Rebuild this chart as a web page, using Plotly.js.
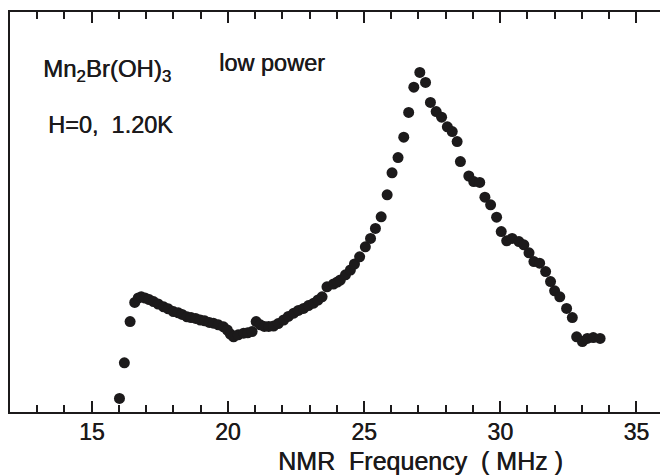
<!DOCTYPE html>
<html>
<head>
<meta charset="utf-8">
<script src="https://cdn.plot.ly/plotly-3.0.1.min.js"></script>
<style>html,body{margin:0;padding:0;background:#fff;}#chart{width:660px;height:475px;}</style>
</head>
<body>
<div id="chart"></div>
<script>
// NMR frequency (MHz) and signal intensity (arbitrary units)
const frequencyMHz = [
  16.02, 16.20, 16.41, 16.58, 16.71, 16.82, 16.96, 17.11, 17.27, 17.44,
  17.64, 17.81, 18.00, 18.18, 18.32, 18.50, 18.65, 18.82, 18.99, 19.15,
  19.32, 19.47, 19.65, 19.84, 19.98, 20.09, 20.21, 20.38, 20.58, 20.73,
  20.89, 21.04, 21.19, 21.34, 21.50, 21.68, 21.85, 22.05, 22.22, 22.42,
  22.59, 22.78, 22.96, 23.15, 23.31, 23.46, 23.64, 23.88, 24.02, 24.13,
  24.32, 24.50, 24.65, 24.84, 25.05, 25.24, 25.42, 25.63, 25.85, 26.03,
  26.25, 26.46, 26.64, 26.83, 27.05, 27.26, 27.44, 27.65, 27.85, 28.06,
  28.24, 28.42, 28.54, 28.85, 29.03, 29.25, 29.44, 29.65, 29.87, 30.04,
  30.24, 30.44, 30.69, 30.87, 31.06, 31.24, 31.45, 31.67, 31.85, 32.00,
  32.19, 32.44, 32.65, 32.81, 33.02, 33.20, 33.42, 33.67
];
const intensity = [
  3.4, 12.3, 22.6, 27.4, 28.5, 28.8, 28.5, 28.1, 27.6, 27.0,
  26.3, 25.8, 25.1, 24.8, 24.4, 23.8, 23.6, 23.4, 23.0, 22.8,
  22.4, 22.2, 21.8, 21.3, 20.5, 19.5, 18.8, 19.3, 19.7, 19.8,
  20.1, 22.6, 21.8, 21.4, 21.4, 21.5, 22.1, 23.0, 23.9, 24.7,
  25.4, 25.9, 26.6, 27.2, 28.0, 28.8, 31.3, 32.0, 32.5, 33.0,
  34.3, 35.5, 37.0, 38.8, 41.3, 43.4, 45.9, 48.8, 54.3, 59.8,
  63.6, 68.7, 74.9, 81.2, 84.9, 82.4, 77.4, 75.1, 73.7, 71.3,
  70.1, 67.6, 62.6, 59.0, 57.6, 57.4, 53.7, 51.8, 48.7, 45.1,
  42.8, 43.4, 42.6, 41.8, 39.8, 37.6, 37.2, 35.1, 32.6, 30.3,
  28.8, 25.9, 23.6, 18.8, 17.6, 18.4, 18.6, 18.4
];
const xTickValues = [15, 20, 25, 30, 35];
const xTickLabels = ['15', '20', '25', '30', '35'];
const xTitle = 'NMR\u00a0\u00a0Frequency\u00a0\u00a0(\u00a0MHz\u00a0)';
const sampleLabel = 'Mn<sub>2</sub>Br(OH)<sub>3</sub>';
const powerLabel = 'low power';
const conditionLabel = 'H=0,\u00a0\u00a01.20K';

const ink = '#1c1a1b';
const font = 'Liberation Sans, Arial, Helvetica, sans-serif';
const heavy = '0.5px 0 0 ' + ink;

const trace = {
  x: frequencyMHz,
  y: intensity,
  type: 'scatter',
  mode: 'markers',
  marker: {size: 11, color: ink},
  hoverinfo: 'x+y'
};

const layout = {
  width: 660,
  height: 475,
  margin: {l: 10, r: 0, t: 12, b: 63},
  paper_bgcolor: '#ffffff',
  plot_bgcolor: '#ffffff',
  showlegend: false,
  font: {family: font, color: ink},
  xaxis: {
    range: [12, 35.87],
    tickvals: xTickValues,
    ticktext: xTickLabels,
    ticks: 'inside',
    ticklen: 11,
    tickwidth: 2,
    tickcolor: ink,
    showline: true,
    linewidth: 2,
    linecolor: ink,
    mirror: 'ticks',
    showgrid: false,
    zeroline: false,
    tickfont: {family: font, size: 23, color: ink, shadow: heavy},
    ticklabelstandoff: -2,
    minor: {dtick: 1, tick0: 12, ticks: 'inside', ticklen: 7, tickwidth: 2, tickcolor: ink, showgrid: false}
  },
  yaxis: {
    range: [0, 100],
    showline: true,
    linewidth: 2,
    linecolor: ink,
    ticks: '',
    showticklabels: false,
    showgrid: false,
    zeroline: false
  },
  annotations: [
    {text: sampleLabel, xref: 'paper', yref: 'paper', x: 0.048, y: 0.81, xanchor: 'left', yanchor: 'bottom', showarrow: false, font: {family: font, size: 24, color: ink, shadow: heavy}},
    {text: powerLabel, xref: 'paper', yref: 'paper', x: 0.318, y: 0.835, xanchor: 'left', yanchor: 'bottom', showarrow: false, font: {family: font, size: 23.5, color: ink, shadow: heavy}},
    {text: conditionLabel, xref: 'paper', yref: 'paper', x: 0.055, y: 0.68, xanchor: 'left', yanchor: 'bottom', showarrow: false, font: {family: font, size: 23.5, color: ink, shadow: heavy}},
    {text: xTitle, xref: 'paper', yref: 'paper', x: 0.632, y: -0.122, xanchor: 'center', yanchor: 'middle', showarrow: false, font: {family: font, size: 25, color: ink, shadow: heavy}}
  ]
};

Plotly.newPlot('chart', [trace], layout, {displayModeBar: false, staticPlot: true});
</script>
</body>
</html>
